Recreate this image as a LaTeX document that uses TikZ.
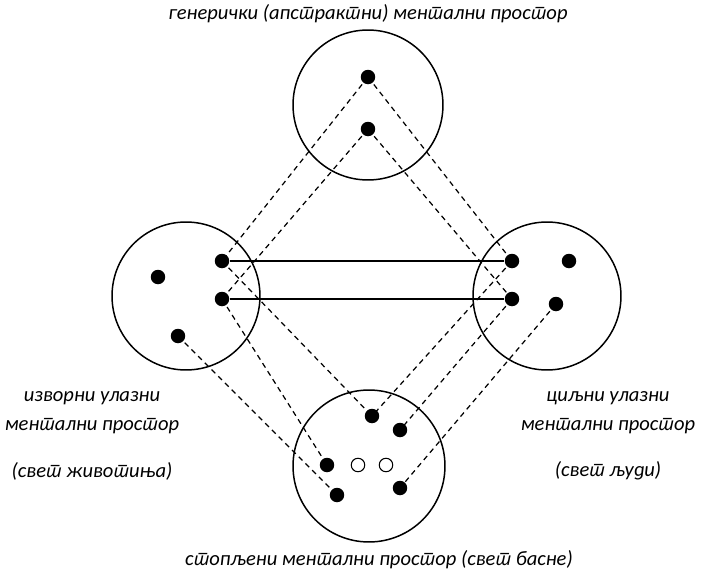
\documentclass[tikz,border=0pt]{standalone}
\usepackage{fontspec}
\setmainfont{Carlito}[Script=Cyrillic]
\newfontfamily\srbfont{Noto Sans}[Script=Cyrillic,Language=Serbian,Scale=0.87]
\newfontfamily\srbcarlito{Carlito}[Script=Cyrillic,Language=Serbian]
\newcommand{\srbt}{{\srbfont т}}
\newcommand{\srbd}{{\srbcarlito д}}
\usepackage{tikz}

\tikzset{
  prostor/.style={draw,circle,line width=0.85pt,minimum size=2.96cm,inner sep=0pt},
  tacka/.style={circle,fill=black,minimum size=0.29cm,inner sep=0pt},
  prazna/.style={circle,draw,line width=0.6pt,fill=white,minimum size=0.27cm,inner sep=0pt},
  veza/.style={line width=0.7pt,dash pattern=on 3pt off 2.4pt},
  spoj/.style={line width=0.7pt},
  natpis/.style={font=\itshape\fontsize{11.7}{14}\selectfont}
}

\begin{document}
\begin{tikzpicture}[x=0.02cm,y=-0.02cm]
			\useasboundingbox (0,0) rectangle (701,575);
			% Prostori
			\node[prostor,minimum size=3.0cm] (gen) at (368,105) {};
			\node[prostor] (izv) at (186,296) {};
			\node[prostor] (cilj) at (547,296) {};
			\node[prostor,minimum size=3.04cm] (stop) at (369,466) {};
			% Tacke
			\node[tacka] (g1) at (368,77) {};
			\node[tacka] (g2) at (368,129) {};
			\node[tacka] (i0) at (158,277) {};
			\node[tacka] (i1) at (222,261) {};
			\node[tacka] (i2) at (222,299) {};
			\node[tacka] (i3) at (178,336) {};
			\node[tacka] (c1) at (512,261) {};
			\node[tacka] (c0) at (569,261) {};
			\node[tacka] (c2) at (512,299) {};
			\node[tacka] (c3) at (556,304) {};
			\node[tacka] (s1) at (372,416) {};
			\node[tacka] (s2) at (400,430) {};
			\node[tacka] (s3) at (327,465) {};
			\node[prazna] (p1) at (358,465) {};
			\node[prazna] (p2) at (386,465) {};
			\node[tacka] (s4) at (337,495) {};
			\node[tacka] (s5) at (400,488) {};
			% Veze
			\draw[spoj] (i1) -- (c1);
			\draw[spoj] (i2) -- (c2);
			\foreach \a/\b in {g1/i1,g1/c1,g2/i2,g2/c2,i1/s1,c1/s1,i2/s3,i3/s4,c2/s2,c3/s5}
			\draw[veza] (\a.center) -- (\b.center);
			% Natpisi
			\node[natpis] (tgen) at (368,14) {генерички (апс\srbt рак\srbt ни) мен\srbt ални прос\srbt ор};
			\node[natpis] (tizv1) at (92,398) {изворни улазни};
			\node[natpis] (tizv2) at (92,426) {мен\srbt ални прос\srbt ор};
			\node[natpis] (tizv3) at (92,471) {(све\srbt\ живо\srbt иња)};
			\node[natpis] (tcilj1) at (608,398) {циљни улазни};
			\node[natpis] (tcilj2) at (608,426) {мен\srbt ални прос\srbt ор};
			\node[natpis] (tcilj3) at (608,471) {(све\srbt\ љу\srbd и)};
			\node[natpis] (tstop) at (379,560) {с\srbt опљени мен\srbt ални прос\srbt ор (све\srbt\ басне)};
		\end{tikzpicture}
\end{document}
